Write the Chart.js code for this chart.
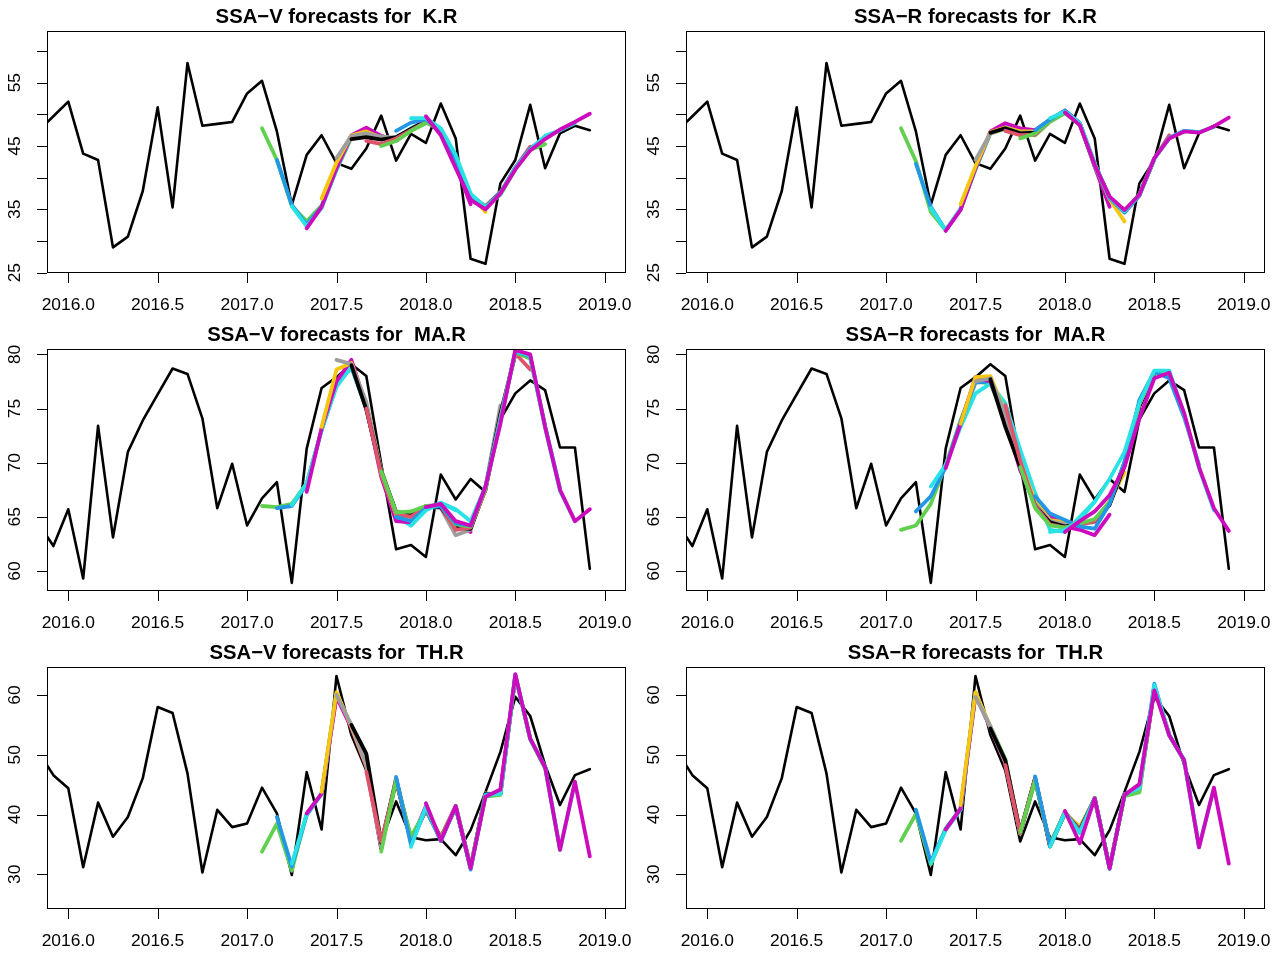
<!DOCTYPE html>
<html>
<head>
<meta charset="utf-8">
<script src="https://cdn.jsdelivr.net/npm/chart.js@4.4.1/dist/chart.umd.min.js"></script>
<style>
  html, body { margin: 0; padding: 0; background: #fff; overflow: hidden; }
  #wrap { position: relative; width: 1278px; height: 956px; }
  canvas { position: absolute; }
</style>
</head>
<body>
<div id="wrap"></div>
<script>
// ---- data ----
const xTickLabels = [2016.0, 2016.5, 2017.0, 2017.5, 2018.0, 2018.5, 2019.0];
const krTicks = [25, 30, 35, 40, 45, 50, 55, 60];
const krTickLabels = [25, 35, 45, 55];
const maTicks = [60, 65, 70, 75, 80];
const maTickLabels = [60, 65, 70, 75, 80];
const thTicks = [30, 40, 50, 60];
const thTickLabels = [30, 40, 50, 60];

// monthly observations, first one is Nov 2015
const obsStart = 2015 + 10 / 12;
const krObs = [47.4, 49.7,
  52.0, 43.8, 42.8, 29.0, 30.7, 37.9, 51.1, 35.3, 58.1, 48.2, 48.5, 48.8,
  53.3, 55.3, 47.3, 35.7, 43.6, 46.7, 42.3, 41.4, 44.6, 49.8, 42.7, 46.9,
  45.5, 51.7, 46.2, 27.2, 26.4, 39.1, 42.8, 51.5, 41.5, 47.0, 48.2, 47.5];
const maObs = [64.4, 62.3,
  65.7, 59.3, 73.4, 63.1, 71.0, 73.9, 76.3, 78.7, 78.2, 74.1, 65.8, 69.9,
  64.2, 66.7, 68.2, 58.9, 71.3, 76.9, 77.9, 79.1, 78.0, 69.9, 62.0, 62.4,
  61.3, 68.9, 66.6, 68.5, 67.3, 74.0, 76.4, 77.6, 76.7, 71.4, 71.4, 60.2];
const thObs = [50.5, 46.6,
  44.4, 31.2, 42.0, 36.3, 39.6, 46.1, 58.0, 57.0, 46.9, 30.3, 40.8, 37.9,
  38.5, 44.5, 40.2, 29.9, 47.1, 37.5, 63.2, 53.3, 47.4, 35.5, 42.2, 36.2,
  35.7, 35.9, 33.2, 37.4, 43.8, 50.5, 59.7, 56.5, 48.3, 41.6, 46.6, 47.6];

// 12 forecast runs, run s starts s months after Feb 2017, 12 values each
const fcStart = 2017 + 1 / 12;
const krV = [
  [47.8, 42.8, 35.5, 33.1, 35.6, 41.2, 46.3, 47.0, 46.6, 45.9, 47.4, 48.6],
  [42.8, 35.7, 32.6, 35.4, 41.4, 46.5, 47.4, 46.5, 46.0, 47.6, 48.8, 47.6],
  [35.5, 32.3, 35.2, 41.3, 46.6, 47.2, 46.4, 46.2, 47.8, 49.0, 47.4, 43.6],
  [32.0, 35.4, 41.5, 46.7, 47.9, 46.6, 45.8, 47.5, 49.3, 47.3, 42.0, 35.8],
  [36.7, 42.4, 46.7, 47.3, 46.3, 46.2, 47.6, 48.9, 47.6, 42.8, 37.3, 34.6],
  [43.1, 46.6, 47.0, 46.5, 46.3, 47.6, 48.8, 47.5, 42.6, 37.2, 35.5, 37.8],
  [46.1, 46.4, 46.0, 46.4, 47.7, 48.9, 47.4, 42.5, 37.1, 35.4, 37.6, 41.4],
  [45.8, 45.3, 46.2, 47.5, 48.8, 47.5, 42.4, 37.0, 35.5, 37.5, 41.6, 44.9],
  [45.0, 45.8, 47.4, 48.7, 47.6, 42.6, 37.3, 35.4, 37.3, 41.3, 44.4, 45.3],
  [47.4, 48.7, 49.2, 47.5, 42.7, 37.2, 35.3, 37.6, 41.6, 44.6, 46.4, 47.5],
  [49.4, 49.4, 47.8, 43.6, 37.5, 35.3, 37.4, 41.5, 44.4, 46.6, 47.5, 48.6],
  [49.7, 46.7, 41.5, 36.5, 35.0, 37.5, 41.3, 44.3, 46.1, 47.6, 48.8, 50.1]
];
const krR = [
  [47.8, 42.6, 34.6, 31.7, 35.0, 41.3, 47.0, 47.7, 47.0, 46.7, 48.8, 50.2],
  [42.2, 35.4, 31.7, 35.1, 41.4, 47.1, 47.9, 47.3, 47.2, 49.0, 50.3, 48.4],
  [35.2, 31.7, 35.0, 41.5, 47.2, 48.2, 47.5, 47.4, 49.2, 50.5, 48.6, 42.3],
  [31.6, 34.9, 41.5, 47.3, 48.6, 47.8, 47.5, 49.1, 50.6, 48.6, 41.7, 35.4],
  [35.8, 41.8, 47.2, 47.9, 47.3, 47.3, 49.2, 50.4, 48.5, 42.2, 36.6, 33.1],
  [42.8, 47.0, 47.8, 47.1, 47.2, 49.2, 50.4, 48.5, 42.0, 36.8, 34.6, 37.2],
  [47.1, 47.8, 47.0, 47.1, 49.1, 50.3, 48.4, 42.0, 36.9, 34.7, 37.3, 42.9],
  [47.4, 46.7, 46.8, 49.0, 50.4, 48.5, 42.1, 36.8, 34.5, 37.2, 43.0, 46.7],
  [46.2, 47.0, 49.0, 50.2, 48.3, 41.9, 36.7, 34.6, 37.4, 43.1, 46.3, 47.2],
  [47.5, 49.2, 50.6, 48.6, 42.1, 36.8, 34.5, 37.2, 43.0, 46.3, 47.4, 47.2],
  [49.4, 50.4, 48.6, 42.2, 36.9, 34.7, 37.3, 43.0, 46.2, 47.4, 47.2, 48.0],
  [50.3, 48.3, 42.0, 37.0, 34.9, 37.3, 43.1, 46.2, 47.3, 47.1, 48.1, 49.5]
];
const maV = [
  [66.0, 65.9, 66.2, 68.1, 73.0, 77.3, 78.9, 75.2, 69.3, 65.4, 65.2, 66.0],
  [65.8, 66.0, 68.0, 73.0, 77.2, 78.8, 75.0, 69.1, 65.2, 64.9, 65.9, 66.0],
  [66.1, 68.1, 73.0, 77.0, 78.9, 75.1, 69.0, 65.0, 64.2, 65.8, 66.3, 65.6],
  [67.3, 73.2, 77.5, 79.5, 75.2, 68.7, 64.6, 64.5, 65.9, 66.1, 64.5, 63.6],
  [73.3, 78.6, 79.2, 75.4, 69.0, 65.2, 64.8, 65.9, 66.0, 64.3, 64.0, 67.5],
  [79.5, 79.1, 75.6, 69.3, 65.5, 65.3, 66.0, 65.8, 63.3, 63.8, 67.8, 75.3],
  [79.0, 74.9, 69.2, 65.4, 65.1, 65.9, 65.9, 64.0, 63.9, 67.6, 74.5, 80.0],
  [75.0, 69.0, 65.3, 65.0, 66.0, 66.0, 63.8, 64.0, 67.5, 74.2, 80.1, 78.6],
  [69.2, 65.4, 65.5, 66.0, 66.1, 64.3, 64.1, 67.6, 74.0, 80.2, 79.6, 73.4],
  [65.0, 64.6, 65.8, 66.0, 64.4, 64.2, 67.8, 74.0, 80.3, 79.8, 73.4, 67.6],
  [64.2, 65.6, 66.3, 65.7, 64.6, 67.8, 73.8, 80.3, 79.9, 73.2, 67.4, 64.6],
  [65.9, 66.2, 64.6, 64.2, 67.8, 73.6, 80.4, 80.0, 73.3, 67.5, 64.6, 65.7]
];
const maR = [
  [63.8, 64.2, 66.2, 69.8, 73.9, 77.5, 77.3, 74.0, 69.6, 66.0, 64.6, 64.0],
  [65.5, 66.9, 69.6, 73.8, 77.4, 77.5, 74.2, 69.7, 66.3, 64.8, 64.4, 64.0],
  [67.8, 69.8, 73.3, 76.4, 77.3, 75.5, 71.2, 67.2, 63.8, 63.6, 65.0, 66.4],
  [69.5, 73.6, 77.9, 77.5, 73.9, 69.3, 66.2, 65.2, 64.1, 63.8, 63.3, 65.2],
  [73.6, 77.9, 78.0, 74.6, 70.0, 66.5, 64.7, 64.5, 64.4, 64.6, 66.4, 69.1],
  [77.5, 77.8, 74.5, 69.8, 66.2, 64.6, 64.3, 64.3, 64.5, 66.2, 69.9, 75.0],
  [77.7, 73.3, 69.6, 66.0, 64.5, 64.1, 64.4, 64.6, 66.1, 69.7, 75.2, 78.2],
  [75.3, 70.2, 66.0, 64.3, 64.0, 64.3, 64.6, 66.3, 70.0, 75.4, 78.3, 78.0],
  [69.6, 65.8, 64.2, 64.0, 64.4, 64.8, 66.4, 70.0, 75.5, 78.3, 78.1, 74.3],
  [66.9, 65.3, 64.7, 64.1, 63.9, 66.2, 70.1, 75.8, 78.4, 77.8, 74.2, 69.8],
  [63.6, 63.8, 64.7, 66.4, 68.5, 71.0, 75.5, 78.5, 78.5, 74.5, 69.5, 65.6],
  [63.6, 64.6, 65.5, 67.0, 69.6, 74.1, 77.8, 78.3, 74.6, 69.6, 65.8, 63.7]
];
const thV = [
  [33.8, 38.5, 30.6, 40.2, 43.4, 60.0, 54.9, 49.5, 34.2, 45.6, 36.0, 40.8],
  [39.6, 31.3, 39.9, 43.5, 60.2, 54.7, 49.0, 34.5, 45.9, 35.8, 40.9, 36.0],
  [31.8, 40.1, 43.5, 60.3, 54.6, 48.5, 34.8, 46.0, 35.3, 41.2, 35.9, 41.3],
  [40.2, 43.5, 59.7, 54.5, 48.0, 34.3, 46.1, 35.5, 41.4, 35.6, 41.3, 31.3],
  [43.8, 60.5, 54.7, 48.2, 34.8, 46.0, 35.5, 40.9, 36.3, 41.3, 31.2, 43.6],
  [60.0, 55.0, 48.4, 34.6, 45.8, 35.8, 41.0, 36.1, 41.4, 31.0, 43.4, 43.5],
  [55.0, 50.2, 35.3, 45.7, 35.6, 40.8, 36.0, 41.2, 31.1, 43.5, 43.4, 63.0],
  [47.2, 35.5, 45.6, 35.9, 40.6, 36.2, 41.5, 31.3, 43.2, 43.7, 63.2, 52.8],
  [33.8, 45.8, 36.3, 40.8, 35.9, 41.3, 31.2, 43.0, 43.3, 63.3, 52.6, 47.7],
  [46.3, 34.9, 41.0, 35.6, 41.4, 30.8, 43.4, 43.6, 63.4, 52.7, 48.0, 34.2],
  [34.6, 41.3, 35.7, 41.3, 31.0, 43.2, 43.5, 63.4, 52.6, 47.9, 34.1, 45.4],
  [41.9, 35.7, 41.4, 31.0, 43.0, 44.2, 63.5, 52.7, 47.9, 34.1, 45.5, 33.0]
];
const thR = [
  [35.6, 40.1, 31.7, 37.7, 40.9, 60.0, 54.8, 49.3, 36.8, 45.6, 35.2, 40.2],
  [40.8, 32.1, 37.6, 41.0, 60.3, 54.6, 49.0, 37.0, 45.8, 35.0, 40.3, 37.2],
  [31.8, 37.4, 40.8, 60.4, 54.5, 48.7, 36.9, 46.0, 34.8, 40.4, 37.5, 42.6],
  [37.5, 41.0, 60.0, 54.5, 48.6, 37.2, 46.1, 34.7, 40.5, 37.0, 42.7, 31.2],
  [41.6, 60.5, 54.6, 48.8, 37.0, 46.0, 34.9, 40.3, 38.0, 42.6, 31.1, 43.4],
  [59.7, 54.7, 48.9, 36.9, 46.0, 34.8, 40.4, 37.6, 42.8, 31.0, 43.3, 44.5],
  [54.4, 49.1, 37.0, 46.1, 34.7, 40.2, 37.4, 42.7, 31.1, 43.2, 44.3, 61.0],
  [48.3, 36.9, 46.0, 34.9, 40.3, 37.3, 42.6, 31.0, 43.4, 44.0, 61.3, 53.5],
  [37.1, 45.8, 35.0, 40.4, 37.0, 42.8, 31.2, 43.1, 43.7, 61.5, 53.3, 49.0],
  [46.4, 34.9, 40.2, 37.1, 42.7, 30.9, 43.3, 44.6, 61.9, 53.2, 49.2, 34.6],
  [34.6, 40.3, 36.9, 42.6, 31.0, 43.4, 44.4, 61.7, 53.4, 49.0, 34.6, 44.4],
  [40.6, 35.2, 42.7, 31.0, 43.3, 45.1, 60.8, 53.3, 49.1, 34.5, 44.5, 31.8]
];

// R default palette
const palette = ['#000000', '#DF536B', '#61D04F', '#2297E6', '#28E2E5', '#CD0BBC', '#F5C710', '#9E9E9E'];

const panels = [
  { title: 'SSA\u2212V forecasts for  K.R',  obs: krObs, fc: krV, ymin: 24.95, ymax: 63.16, ticks: krTicks, labels: krTickLabels, left: 0,   top: 0 },
  { title: 'SSA\u2212R forecasts for  K.R',  obs: krObs, fc: krR, ymin: 24.95, ymax: 63.16, ticks: krTicks, labels: krTickLabels, left: 639, top: 0 },
  { title: 'SSA\u2212V forecasts for  MA.R', obs: maObs, fc: maV, ymin: 58.15, ymax: 80.5,  ticks: maTicks, labels: maTickLabels, left: 0,   top: 318 },
  { title: 'SSA\u2212R forecasts for  MA.R', obs: maObs, fc: maR, ymin: 58.15, ymax: 80.5,  ticks: maTicks, labels: maTickLabels, left: 639, top: 318 },
  { title: 'SSA\u2212V forecasts for  TH.R', obs: thObs, fc: thV, ymin: 24.2,  ymax: 64.7,  ticks: thTicks, labels: thTickLabels, left: 0,   top: 636 },
  { title: 'SSA\u2212R forecasts for  TH.R', obs: thObs, fc: thR, ymin: 24.2,  ymax: 64.7,  ticks: thTicks, labels: thTickLabels, left: 639, top: 636 }
];

const FONT = '"Liberation Sans", Arial, Helvetica, sans-serif';

// box, tick marks, tick labels and title in the style of base R graphics
const framePlugin = {
  id: 'frame',
  afterDatasetsDraw(chart, args, opts) {
    const { ctx, chartArea: a, scales: { x, y } } = chart;
    ctx.save();
    ctx.strokeStyle = '#000';
    ctx.fillStyle = '#000';
    ctx.lineWidth = 1;
    ctx.strokeRect(a.left + 0.5, a.top + 0.5, a.right - a.left - 1, a.bottom - a.top - 1);

    ctx.beginPath();
    xTickLabels.forEach(v => {
      const px = Math.round(x.getPixelForValue(v)) + 0.5;
      ctx.moveTo(px, a.bottom);
      ctx.lineTo(px, a.bottom + 10);
    });
    opts.ticks.forEach(v => {
      const py = Math.round(y.getPixelForValue(v)) + 0.5;
      ctx.moveTo(a.left - 10, py);
      ctx.lineTo(a.left, py);
    });
    ctx.stroke();

    ctx.font = '17.4px ' + FONT;
    ctx.textAlign = 'center';
    ctx.textBaseline = 'alphabetic';
    xTickLabels.forEach(v => {
      ctx.fillText(v.toFixed(1), x.getPixelForValue(v), a.bottom + 37);
    });
    opts.labels.forEach(v => {
      ctx.save();
      ctx.translate(a.left - 33.5, y.getPixelForValue(v));
      ctx.rotate(-Math.PI / 2);
      ctx.fillText(String(v), 0, 6.2);
      ctx.restore();
    });

    ctx.font = 'bold 20.3px ' + FONT;
    ctx.fillText(opts.title, (a.left + a.right) / 2, a.top - 7.7);
    ctx.restore();
  }
};

const wrap = document.getElementById('wrap');

panels.forEach(p => {
  const cv = document.createElement('canvas');
  cv.width = 640;
  cv.height = 318;
  cv.style.left = p.left + 'px';
  cv.style.top = p.top + 'px';
  cv.style.width = '640px';
  cv.style.height = '318px';
  wrap.appendChild(cv);

  const datasets = [{
    data: p.obs.map((v, i) => ({ x: obsStart + i / 12, y: v })),
    borderColor: '#000',
    borderWidth: 2.6,
    order: 50,
    clip: 0
  }];
  p.fc.forEach((run, s) => {
    datasets.push({
      data: run.map((v, k) => ({ x: fcStart + (s + k) / 12, y: v })),
      borderColor: palette[(s + 2) % 8],
      borderWidth: 3.8,
      order: 40 - s,
      clip: 0
    });
  });

  new Chart(cv, {
    type: 'line',
    data: { datasets },
    options: {
      responsive: false,
      animation: false,
      events: [],
      layout: { padding: { left: 47, right: 14, top: 31, bottom: 45 } },
      elements: {
        point: { radius: 0 },
        line: { tension: 0, borderCapStyle: 'round', borderJoinStyle: 'round' }
      },
      scales: {
        x: { type: 'linear', display: false, min: 2015.881, max: 2019.119 },
        y: { type: 'linear', display: false, min: p.ymin, max: p.ymax }
      },
      plugins: {
        legend: { display: false },
        tooltip: { enabled: false },
        frame: { title: p.title, ticks: p.ticks, labels: p.labels }
      }
    },
    plugins: [framePlugin]
  });
});
</script>
</body>
</html>
